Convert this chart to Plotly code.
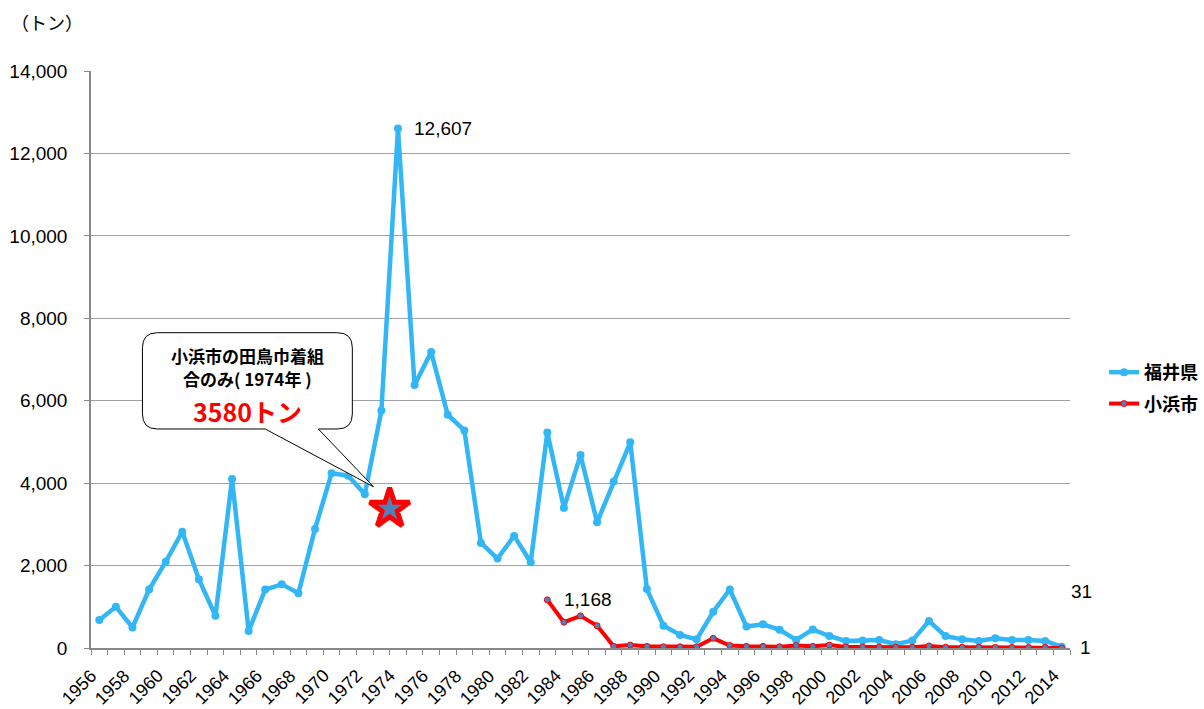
import plotly.graph_objects as go

years = list(range(1956, 2015))
fukui = [680, 1000, 500, 1420, 2090, 2820, 1670, 780, 4100, 410,
         1420, 1545, 1330, 2890, 4240, 4180, 3730, 5760, 12607, 6380,
         7180, 5660, 5280, 2550, 2170, 2720, 2080, 5230, 3400, 4680,
         3050, 4040, 4990, 1430, 540, 315, 210, 880, 1420, 520,
         575, 440, 195, 450, 290, 170, 180, 195, 90, 180,
         655, 290, 210, 170, 235, 195, 195, 170, 31]
obama_years = list(range(1983, 2015))
obama = [1168, 625, 780, 540, 40, 70, 40, 30, 30, 30,
         235, 60, 40, 40, 30, 60, 40, 70, 25, 25,
         25, 20, 20, 50, 20, 20, 20, 15, 15, 15,
         15, 1]
tick_years = list(range(1956, 2015, 2))
y_ticks = [0, 2000, 4000, 6000, 8000, 10000, 12000, 14000]
y_tick_text = ["0", "2,000", "4,000", "6,000", "8,000", "10,000", "12,000", "14,000"]

star_year = 1973.5
star_value = 3380

BLUE = "#33B6F6"
RED = "#FF0000"
NUMFONT = "Liberation Sans, Arial, Noto Sans CJK JP"
JPFONT = "Noto Sans CJK JP"

fig = go.Figure()
fig.add_trace(go.Scatter(
    x=years, y=fukui, name="福井県", mode="lines+markers", legendgroup="a",
    line=dict(color=BLUE, width=4.5),
    marker=dict(color=BLUE, size=8),
))
fig.add_trace(go.Scatter(
    x=obama_years, y=obama, name="小浜市", mode="lines+markers", legendgroup="b",
    line=dict(color=RED, width=4),
    marker=dict(color="#4F81BD", size=6, line=dict(color=RED, width=1)),
))
fig.add_trace(go.Scatter(
    x=[star_year], y=[star_value], mode="markers", showlegend=False,
    marker=dict(symbol="star", size=30, color="#4F81BD", line=dict(color=RED, width=5)),
))

# callout box (data coords)
x0, x1, y0, y1 = 1958.6, 1971.25, 5314, 7650
rx, ry = 0.9, 365
tb1, tb2 = 1966.0, 1969.2
tipx, tipy = 1972.52, 3914
path = (f"M {x0+rx},{y1} L {x1-rx},{y1} Q {x1},{y1} {x1},{y1-ry} "
        f"L {x1},{y0+ry} Q {x1},{y0} {x1-rx},{y0} L {tb2},{y0} L {tipx},{tipy} "
        f"L {tb1},{y0} L {x0+rx},{y0} Q {x0},{y0} {x0},{y0+ry} "
        f"L {x0},{y1-ry} Q {x0},{y1} {x0+rx},{y1} Z")
fig.add_shape(type="path", path=path, xref="x", yref="y",
              fillcolor="white", line=dict(color="black", width=1), layer="above")

cx = (x0 + x1) / 2
fig.add_annotation(x=cx, y=7090, text="小浜市の田鳥巾着組", showarrow=False,
                   font=dict(family=JPFONT, size=17, color="black", weight="bold"))
fig.add_annotation(x=cx, y=6530, text="合のみ( 1974年 )", showarrow=False,
                   font=dict(family=JPFONT, size=17, color="black", weight="bold"))
fig.add_annotation(x=cx, y=5760, text="3580トン", showarrow=False,
                   font=dict(family=JPFONT, size=25, color=RED, weight="bold"))

# data labels
fig.add_annotation(x=1974, y=12607, text="12,607", showarrow=False, xanchor="left",
                   xshift=14, font=dict(family=NUMFONT, size=19, color="black"))
fig.add_annotation(x=1983, y=1168, text="1,168", showarrow=False, xanchor="left",
                   xshift=15, font=dict(family=NUMFONT, size=19, color="black"))
fig.add_annotation(x=2014, y=31, text="31", showarrow=False, xanchor="left",
                   xshift=7, yshift=55, font=dict(family=NUMFONT, size=19, color="black"))
fig.add_annotation(x=2014, y=1, text="1", showarrow=False, xanchor="left",
                   xshift=16, font=dict(family=NUMFONT, size=19, color="black"))

fig.add_annotation(x=0, y=1, xref="paper", yref="paper", xanchor="left", yanchor="middle",
                   xshift=-82, yshift=49, text="（トン）", showarrow=False,
                   font=dict(family=JPFONT, size=18, color="black"))

# rotated year labels (as text annotations for precise placement)
for yr in tick_years:
    fig.add_annotation(x=yr, y=0, xref="x", yref="paper", text=str(yr), showarrow=False,
                       textangle=-45, xanchor="right", yanchor="top", xshift=4, yshift=-15,
                       font=dict(family=NUMFONT, size=18, color="black"))

fig.update_layout(
    width=1204, height=709,
    margin=dict(l=91, r=134, t=71, b=61, autoexpand=False),
    paper_bgcolor="white", plot_bgcolor="white",
    font=dict(family=NUMFONT, color="black"),
    showlegend=True,
    legend=dict(xref="container", yref="container", x=0.917, y=0.4528,
                xanchor="left", yanchor="middle",
                font=dict(family=JPFONT, size=18, color="black", weight="bold"),
                tracegroupgap=5, bgcolor="rgba(0,0,0,0)"),
    xaxis=dict(range=[1955.5, 2014.5], showticklabels=False, automargin=False,
               showgrid=False, zeroline=False, showline=True, linecolor="#888888", linewidth=1.5,
               ticks="",
               minor=dict(ticks="outside", tick0=1955.5, dtick=1, ticklen=5,
                          tickcolor="#888888", tickwidth=1, showgrid=False)),
    yaxis=dict(range=[0, 14000], tickvals=y_ticks, ticktext=y_tick_text, automargin=False,
               tickfont=dict(family=NUMFONT, size=19, color="black"),
               showgrid=True, gridcolor="#A0A0A0", gridwidth=1.3, zeroline=False,
               showline=True, linecolor="#888888", linewidth=1.5,
               ticks="outside", ticklen=5, tickcolor="#888888", ticklabelstandoff=13),
)

fig.write_html("out.html", config={"displayModeBar": False},
               post_script="document.body.style.margin='0';document.body.style.overflow='hidden';")
